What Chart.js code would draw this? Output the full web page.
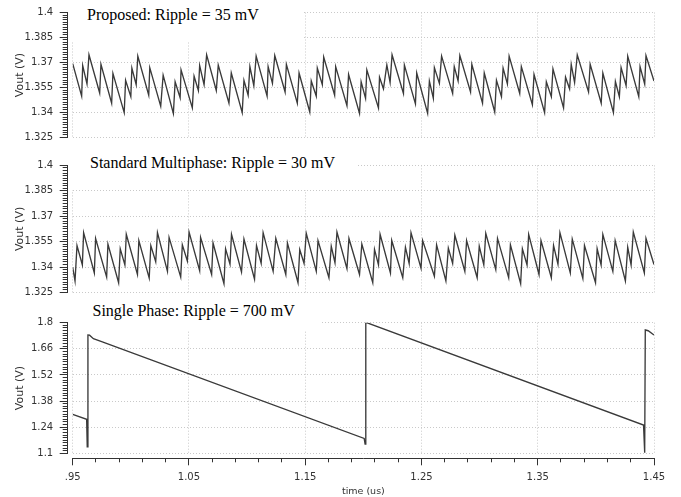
<!DOCTYPE html>
<html><head><meta charset="utf-8">
<script src="https://cdn.jsdelivr.net/npm/chart.js@4"></script>
<style>
html,body{margin:0;padding:0;background:#fff;}
#wrap{position:relative;width:681px;height:497px;overflow:hidden;background:#fff;}
canvas{position:absolute;left:0;}
.ttl{position:absolute;background:#fff;font-family:'Liberation Serif','Times New Roman',serif;font-size:16px;line-height:18px;color:#000;white-space:nowrap;box-sizing:border-box;z-index:2;}
</style></head><body>
<div id="wrap">
<canvas id="c1" width="681" height="150" style="top:0;width:681px;height:150px"></canvas>
<canvas id="c2" width="681" height="155" style="top:150px;width:681px;height:155px"></canvas>
<canvas id="c3" width="681" height="192" style="top:305px;width:681px;height:192px"></canvas>
<div class="ttl" style="left:69px;top:0;width:233px;height:41px;padding:6px 0 0 18px">Proposed: Ripple = 35 mV</div>
<div class="ttl" style="left:69px;top:151px;width:289px;height:39px;padding:3px 0 0 21px">Standard Multiphase: Ripple = 30 mV</div>
<div class="ttl" style="left:69px;top:300px;width:251px;height:31px;padding:2px 0 0 23.5px">Single Phase: Ripple = 700 mV</div>
</div>
<script>
// ---- Proposed (top panel) ----
const time1 = [
0.9500, 0.9577, 0.9586, 0.9623, 0.9640, 0.9732, 0.9743, 0.9835, 0.9846, 0.9943,
0.9955, 1.0000, 1.0009, 1.0046, 1.0060, 1.0154, 1.0163, 1.0257, 1.0278, 1.0366,
1.0381, 1.0424, 1.0432, 1.0529, 1.0544, 1.0581, 1.0592, 1.0630, 1.0652, 1.0735,
1.0752, 1.0844, 1.0864, 1.0958, 1.0973, 1.1009, 1.1024, 1.1058, 1.1078, 1.1172,
1.1181, 1.1218, 1.1238, 1.1327, 1.1338, 1.1432, 1.1447, 1.1539, 1.1552, 1.1595,
1.1604, 1.1647, 1.1659, 1.1753, 1.1762, 1.1859, 1.1873, 1.1967, 1.1981, 1.2019,
1.2030, 1.2130, 1.2139, 1.2173, 1.2202, 1.2230, 1.2247, 1.2345, 1.2353, 1.2448,
1.2459, 1.2553, 1.2568, 1.2602, 1.2611, 1.2654, 1.2673, 1.2768, 1.2782, 1.2815,
1.2830, 1.2922, 1.2933, 1.3025, 1.3040, 1.3130, 1.3145, 1.3188, 1.3202, 1.3239,
1.3254, 1.3345, 1.3359, 1.3454, 1.3468, 1.3559, 1.3574, 1.3617, 1.3631, 1.3722,
1.3739, 1.3774, 1.3788, 1.3817, 1.3840, 1.3937, 1.3951, 1.4046, 1.4060, 1.4151,
1.4168, 1.4202, 1.4217, 1.4260, 1.4274, 1.4369, 1.4380, 1.4420, 1.4431, 1.4500];
const vout1 = [
1.3693, 1.3498, 1.3681, 1.3571, 1.3746, 1.3517, 1.3689, 1.3456, 1.3635, 1.3399,
1.3593, 1.3495, 1.3666, 1.3567, 1.3738, 1.3504, 1.3669, 1.3438, 1.3624, 1.3394,
1.3584, 1.3489, 1.3656, 1.3428, 1.3618, 1.3532, 1.3681, 1.3567, 1.3746, 1.3532,
1.3685, 1.3456, 1.3637, 1.3399, 1.3593, 1.3504, 1.3675, 1.3561, 1.3738, 1.3498,
1.3675, 1.3575, 1.3742, 1.3523, 1.3689, 1.3456, 1.3637, 1.3403, 1.3589, 1.3498,
1.3666, 1.3567, 1.3732, 1.3504, 1.3675, 1.3441, 1.3628, 1.3395, 1.3584, 1.3485,
1.3656, 1.3428, 1.3612, 1.3542, 1.3685, 1.3580, 1.3746, 1.3514, 1.3685, 1.3452,
1.3637, 1.3395, 1.3589, 1.3485, 1.3669, 1.3575, 1.3738, 1.3514, 1.3675, 1.3589,
1.3742, 1.3523, 1.3689, 1.3456, 1.3637, 1.3403, 1.3593, 1.3495, 1.3666, 1.3571,
1.3738, 1.3514, 1.3675, 1.3447, 1.3628, 1.3399, 1.3584, 1.3495, 1.3662, 1.3428,
1.3612, 1.3542, 1.3689, 1.3580, 1.3746, 1.3523, 1.3689, 1.3456, 1.3637, 1.3399,
1.3586, 1.3495, 1.3669, 1.3561, 1.3738, 1.3495, 1.3675, 1.3571, 1.3742, 1.3589];

// ---- Standard multiphase (middle panel) ----
const time2 = [
0.9500, 0.9520, 0.9537, 0.9583, 0.9594, 0.9686, 0.9697, 0.9792, 0.9803, 0.9895,
0.9909, 0.9949, 0.9961, 1.0057, 1.0069, 1.0158, 1.0172, 1.0214, 1.0229, 1.0315,
1.0329, 1.0429, 1.0443, 1.0486, 1.0501, 1.0592, 1.0600, 1.0695, 1.0707, 1.0801,
1.0815, 1.0853, 1.0866, 1.0952, 1.0973, 1.1064, 1.1081, 1.1121, 1.1138, 1.1224,
1.1247, 1.1333, 1.1347, 1.1438, 1.1453, 1.1490, 1.1509, 1.1595, 1.1610, 1.1704,
1.1724, 1.1756, 1.1773, 1.1859, 1.1876, 1.1967, 1.1987, 1.2081, 1.2096, 1.2130,
1.2144, 1.2233, 1.2244, 1.2339, 1.2362, 1.2394, 1.2410, 1.2496, 1.2510, 1.2611,
1.2630, 1.2710, 1.2731, 1.2768, 1.2787, 1.2873, 1.2888, 1.2979, 1.2997, 1.3036,
1.3053, 1.3139, 1.3154, 1.3250, 1.3265, 1.3353, 1.3368, 1.3408, 1.3422, 1.3511,
1.3528, 1.3617, 1.3636, 1.3674, 1.3691, 1.3780, 1.3797, 1.3888, 1.3902, 1.3997,
1.4011, 1.4045, 1.4060, 1.4146, 1.4166, 1.4254, 1.4274, 1.4303, 1.4322, 1.4417,
1.4431, 1.4500];
const vout2 = [
1.3398, 1.3318, 1.3527, 1.3413, 1.3603, 1.3365, 1.3569, 1.3341, 1.3536, 1.3308,
1.3508, 1.3413, 1.3593, 1.3356, 1.3556, 1.3335, 1.3527, 1.3432, 1.3603, 1.3375,
1.3575, 1.3341, 1.3531, 1.3436, 1.3607, 1.3379, 1.3575, 1.3356, 1.3542, 1.3302,
1.3508, 1.3417, 1.3593, 1.3371, 1.3565, 1.3328, 1.3527, 1.3422, 1.3603, 1.3375,
1.3569, 1.3356, 1.3542, 1.3308, 1.3504, 1.3422, 1.3599, 1.3375, 1.3556, 1.3337,
1.3523, 1.3426, 1.3607, 1.3390, 1.3569, 1.3356, 1.3536, 1.3308, 1.3504, 1.3413,
1.3593, 1.3365, 1.3557, 1.3337, 1.3517, 1.3421, 1.3603, 1.3394, 1.3556, 1.3346,
1.3531, 1.3318, 1.3512, 1.3422, 1.3588, 1.3375, 1.3556, 1.3337, 1.3523, 1.3413,
1.3599, 1.3385, 1.3569, 1.3337, 1.3531, 1.3302, 1.3508, 1.3413, 1.3593, 1.3356,
1.3556, 1.3337, 1.3527, 1.3417, 1.3603, 1.3365, 1.3565, 1.3333, 1.3527, 1.3308,
1.3508, 1.3413, 1.3593, 1.3375, 1.3556, 1.3318, 1.3517, 1.3413, 1.3607, 1.3365,
1.3569, 1.3415];

// ---- Single phase (bottom panel) ----
const time3 = [0.9500, 0.9620, 0.9625, 0.9631, 0.9645, 0.9678, 0.9749, 1.2007, 1.2015, 1.2021, 1.4410, 1.4420, 1.4425, 1.4450, 1.4500];
const vout3 = [1.309, 1.282, 1.135, 1.734, 1.733, 1.714, 1.698, 1.180, 1.149, 1.802, 1.2513, 1.103, 1.761, 1.757, 1.734];

// ---- axis ticks ----
const xMajorTicks = [0.95, 1.05, 1.15, 1.25, 1.35, 1.45];
const xTickLabels = ['.95', '1.05', '1.15', '1.25', '1.35', '1.45'];
const yMajor1 = [1.325, 1.34, 1.355, 1.37, 1.385, 1.4];
const yLabels1 = ['1.325', '1.34', '1.355', '1.37', '1.385', '1.4'];
const yMajor2 = [1.325, 1.34, 1.355, 1.37, 1.385, 1.4];
const yLabels2 = ['1.325', '1.34', '1.355', '1.37', '1.385', '1.4'];
const yMajor3 = [1.1, 1.24, 1.38, 1.52, 1.66, 1.8];
const yLabels3 = ['1.1', '1.24', '1.38', '1.52', '1.66', '1.8'];
const xAxisTitle = 'time (us)';
const yAxisTitle = 'Vout (V)';

const INK = '#333333';
const GRID = '#c9c9c9';
const LINE = '#3a3a3a';
const TICKFONT = {family: "'DejaVu Sans', sans-serif", size: 10};

function subdivide(major, n) {
  const out = [];
  for (let i = 0; i < major.length - 1; i++) {
    const a = major[i], b = major[i + 1];
    for (let k = 0; k < n; k++) out.push(a + (b - a) * k / n);
  }
  out.push(major[major.length - 1]);
  return out;
}

function buildChart(id, times, vals, yMajor, yLabels, bottomAxis, pad) {
  const yMin = yMajor[0], yMax = yMajor[yMajor.length - 1];
  const yMinor = subdivide(yMajor, 10);
  const xMinor = subdivide(xMajorTicks, 5);
  const scales = {
    x: {
      type: 'linear', min: 0.95, max: 1.45, position: 'bottom', weight: 2,
      afterBuildTicks: s => { s.ticks = xMajorTicks.map(v => ({value: v})); },
      grid: {display: true, drawOnChartArea: true, drawTicks: bottomAxis, tickLength: 7,
             color: GRID, lineWidth: 1, tickColor: INK, tickWidth: 1},
      border: {display: false, dash: [1, 2]},
      ticks: {display: bottomAxis, autoSkip: false, maxRotation: 0, minRotation: 0, padding: 6,
              color: INK, font: TICKFONT, callback: (v, i) => xTickLabels[i]},
      title: {display: bottomAxis, text: xAxisTitle, color: INK,
              font: {family: "'DejaVu Sans', sans-serif", size: 9.5}, padding: {top: 0, bottom: 0}},
      afterFit: s => { s.height = bottomAxis ? 38.7 : 0; }
    },
    y: {
      type: 'linear', min: yMin, max: yMax, position: 'left', weight: 2,
      afterBuildTicks: s => { s.ticks = yMajor.map(v => ({value: v})); },
      grid: {display: true, drawOnChartArea: true, drawTicks: true, tickLength: 8,
             color: GRID, lineWidth: 1, tickColor: INK, tickWidth: 1},
      border: {display: false, dash: [1, 2]},
      ticks: {autoSkip: false, padding: 6.5, color: INK, font: TICKFONT, callback: (v, i) => yLabels[i]},
      title: {display: true, text: yAxisTitle, color: INK,
              font: {family: "'DejaVu Sans', sans-serif", size: 11}, padding: {top: 13.5, bottom: 0}},
      afterFit: s => { s.width = 67.7; }
    },
    ym: {
      type: 'linear', min: yMin, max: yMax, position: 'left', weight: 1,
      afterBuildTicks: s => { s.ticks = yMinor.map(v => ({value: v})); },
      grid: {display: true, drawOnChartArea: false, drawTicks: true, tickLength: 5,
             color: INK, tickColor: INK, tickWidth: 1},
      border: {display: true, color: INK, width: 1},
      ticks: {display: false},
      afterFit: s => { s.width = 0; }
    },
    ys: {
      type: 'linear', min: yMin, max: yMax, position: 'left', weight: 0,
      grid: {display: false}, border: {display: false}, ticks: {display: false},
      afterFit: s => { s.width = 5; }
    }
  };
  if (bottomAxis) {
    scales.xm = {
      type: 'linear', min: 0.95, max: 1.45, position: 'bottom', weight: 1,
      afterBuildTicks: s => { s.ticks = xMinor.map(v => ({value: v})); },
      grid: {display: true, drawOnChartArea: false, drawTicks: true, tickLength: 4,
             color: INK, tickColor: INK, tickWidth: 1},
      border: {display: true, color: INK, width: 1},
      ticks: {display: false},
      afterFit: s => { s.height = 0; }
    };
    scales.xs = {
      type: 'linear', min: 0.95, max: 1.45, position: 'bottom', weight: 0,
      grid: {display: false}, border: {display: false}, ticks: {display: false},
      afterFit: s => { s.height = 5; }
    };
  }
  return new Chart(document.getElementById(id), {
    type: 'line',
    data: {datasets: [{
      data: times.map((t, i) => ({x: t, y: vals[i]})),
      borderColor: LINE, borderWidth: 1.35, pointRadius: 0, tension: 0, fill: false,
      xAxisID: 'x', yAxisID: 'y'
    }]},
    options: {
      responsive: false, animation: false, devicePixelRatio: 1,
      layout: {padding: pad},
      plugins: {legend: {display: false}, tooltip: {enabled: false}, title: {display: false}},
      scales: scales
    }
  });
}

buildChart('c1', time1, vout1, yMajor1, yLabels1, false, {left: 0, right: 27, top: 10, bottom: 8.7});
buildChart('c2', time2, vout2, yMajor2, yLabels2, false, {left: 0, right: 27, top: 15.4, bottom: 8.1});
buildChart('c3', time3, vout3, yMajor3, yLabels3, true, {left: 0, right: 27, top: 17.7, bottom: 0});
</script>
</body></html>
